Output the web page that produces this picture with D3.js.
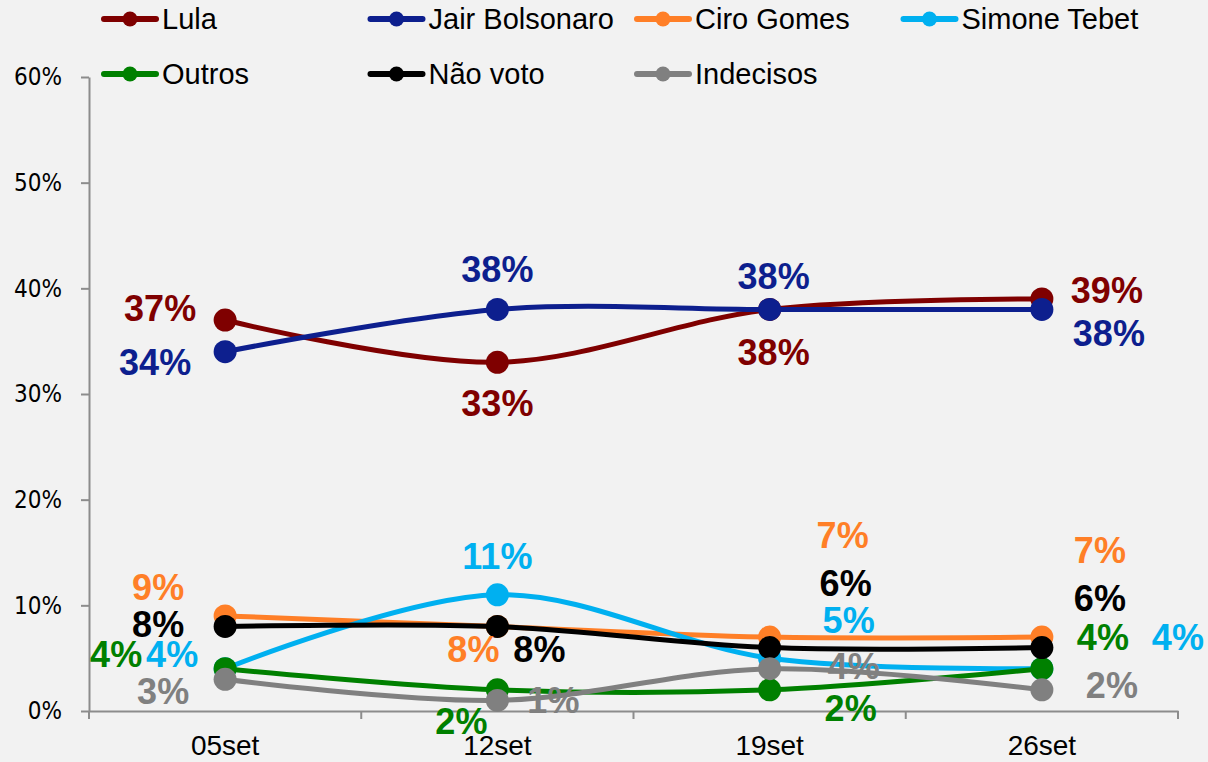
<!DOCTYPE html>
<html>
<head>
<meta charset="utf-8">
<script src="https://cdn.jsdelivr.net/npm/d3@7/dist/d3.min.js"></script>
<style>
  html, body { margin: 0; padding: 0; background: #f2f2f2; }
  svg { display: block; }
</style>
</head>
<body>
<svg id="chart" width="1208" height="762"></svg>
<script>
// ---- data ----
const categories = ["05set", "12set", "19set", "26set"];
const seriesNames = ["Lula", "Jair Bolsonaro", "Ciro Gomes", "Simone Tebet", "Outros", "Não voto", "Indecisos"];
const lula       = [37, 33, 38, 39];
const bolsonaro  = [34, 38, 38, 38];
const ciro       = [9, 8, 7, 7];
const tebet      = [4, 11, 5, 4];
const outros     = [4, 2, 2, 4];
const naoVoto    = [8, 8, 6, 6];
const indecisos  = [3, 1, 4, 2];
const yTicks     = [0, 10, 20, 30, 40, 50, 60];

// ---- styles / layout (kept separate from data) ----
const colors = ["#7f0000", "#0d1f8e", "#ff7f27", "#00b0f0", "#008000", "#000000", "#808080"];
// label offsets [dx, dy] relative to the point, per series per category
const labelOffsets = [
  [[-65, -12], [0, 41], [4, 43], [65, -9]],
  [[-70, 10], [0, -40], [4, -33], [67, 24]],
  [[-67, -29], [-24, 23], [73, -102], [58, -87]],
  [[-53, -15], [0, -39], [79, -38], [136, -32]],
  [[-109, -15], [-36, 31], [81, 18], [61, -32]],
  [[-67, -2], [42, 23], [76, -65], [58, -50]],
  [[-62, 12], [56, 0], [84, -3], [70, -5]]
];

const allValues = [lula, bolsonaro, ciro, tebet, outros, naoVoto, indecisos];
const series = seriesNames.map((name, i) => ({ name, values: allValues[i], color: colors[i], offsets: labelOffsets[i] }));

const svg = d3.select("#chart");
const axisColor = "#8c8c8c";

const x = d3.scaleBand().domain(categories).range([89, 1178]).padding(0);
const y = d3.scaleLinear().domain([0, 60]).range([711, 77]);
const cx = c => x(c) + x.bandwidth() / 2;

// ---- y axis ----
const yAxis = d3.axisLeft(y).tickValues(yTicks).tickFormat(d => d + "%").tickSize(8).tickSizeOuter(0).tickPadding(19);
const gy = svg.append("g").attr("transform", "translate(89,0)").call(yAxis);
gy.select(".domain").attr("stroke", axisColor).attr("stroke-width", 2);
gy.selectAll(".tick line").attr("stroke", axisColor).attr("stroke-width", 2);
gy.selectAll(".tick text").attr("fill", "#000").style("font-family", "'Liberation Sans Narrow', 'DejaVu Sans Condensed', sans-serif").style("font-size", "24px");

// ---- x axis ----
const xAxis = d3.axisBottom(x).tickSize(0).tickSizeOuter(0).tickPadding(24);
const gx = svg.append("g").attr("transform", "translate(0,711)").call(xAxis);
gx.select(".domain").attr("stroke", axisColor).attr("stroke-width", 2);
gx.selectAll(".tick text").attr("fill", "#000").style("font-family", "'Liberation Sans', Arial, sans-serif").style("font-size", "28px");
const boundaries = d3.range(categories.length + 1).map(i => x.range()[0] + i * x.step());
gx.selectAll(".bound").data(boundaries).enter().append("line")
  .attr("class", "bound")
  .attr("x1", d => d).attr("x2", d => d).attr("y1", 0).attr("y2", 8)
  .attr("stroke", axisColor).attr("stroke-width", 2);

// ---- lines ----
const line = d3.line()
  .x((d, i) => cx(categories[i]))
  .y(d => y(d))
  .curve(d3.curveCardinal.tension(0));

const gLines = svg.append("g");
series.forEach(s => {
  gLines.append("path")
    .attr("d", line(s.values))
    .attr("fill", "none")
    .attr("stroke", s.color)
    .attr("stroke-width", 5)
    .attr("stroke-linecap", "round");
  gLines.selectAll(null).data(s.values).enter().append("circle")
    .attr("cx", (d, i) => cx(categories[i]))
    .attr("cy", d => y(d))
    .attr("r", 11.5)
    .attr("fill", s.color);
});

// ---- data labels ----
const gLabels = svg.append("g");
series.forEach(s => {
  gLabels.selectAll(null).data(s.values).enter().append("text")
    .attr("x", (d, i) => cx(categories[i]) + s.offsets[i][0])
    .attr("y", (d, i) => y(d) + s.offsets[i][1])
    .attr("dy", "0.36em")
    .attr("text-anchor", "middle")
    .attr("fill", s.color)
    .style("font-family", "'Liberation Sans', Arial, sans-serif")
    .style("font-weight", "bold")
    .style("font-size", "36px")
    .text(d => d + "%");
});

// ---- legend ----
const legendCols = 4, colW = 266.5, legX0 = 130, rowY0 = 19, rowH = 55;
const gLeg = svg.append("g");
series.forEach((s, i) => {
  const col = i % legendCols, row = Math.floor(i / legendCols);
  const g = gLeg.append("g").attr("transform", `translate(${legX0 + col * colW},${rowY0 + row * rowH})`);
  g.append("line").attr("x1", -26).attr("x2", 26).attr("y1", 0).attr("y2", 0)
    .attr("stroke", s.color).attr("stroke-width", 6).attr("stroke-linecap", "round");
  g.append("circle").attr("r", 7.5).attr("fill", s.color);
  g.append("text").attr("x", 32).attr("y", 0).attr("dy", "0.36em")
    .attr("fill", "#000")
    .style("font-family", "'Liberation Sans', Arial, sans-serif")
    .style("font-size", "29px")
    .text(s.name);
});
</script>
</body>
</html>
